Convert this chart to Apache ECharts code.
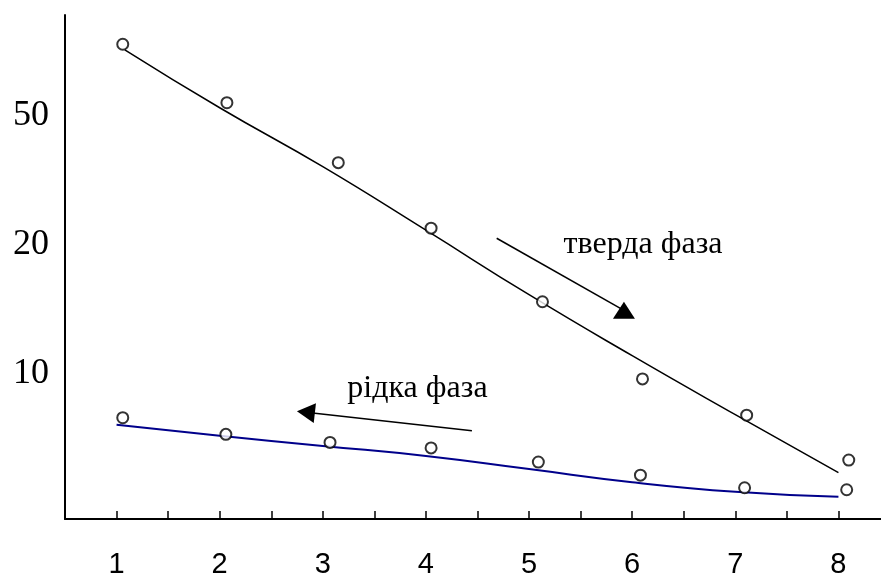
<!DOCTYPE html>
<html>
<head>
<meta charset="utf-8">
<script src="https://cdn.jsdelivr.net/npm/echarts@6/dist/echarts.min.js"></script>
<style>
  html, body { margin: 0; padding: 0; background: #fff; }
  #chart-container { width: 881px; height: 577px; }
</style>
</head>
<body>
<div id="chart-container"></div>
<script>
// y axis is in relative units (0 = x axis, 100 = top of y axis)
const yTickValues = [28.8, 54.4, 80.0]
const yTickLabels = ["10", "20", "50"]

// measured points
const solidX = [1.06, 2.07, 3.15, 4.05, 5.13, 6.10, 7.11, 8.10]
const solidY = [94.2, 82.6, 70.7, 57.7, 43.1, 27.8, 20.6, 11.7]
const liquidX = [1.06, 2.06, 3.07, 4.05, 5.09, 6.08, 7.09, 8.08]
const liquidY = [20.1, 16.8, 15.2, 14.1, 11.3, 8.7, 6.2, 5.8]

// fitted curves
const solidFitX = [1.08, 2, 3, 4, 5, 6, 7, 8]
const solidFitY = [93.1, 81.6, 69.9, 57.3, 44.5, 32.4, 20.7, 9.2]
const liquidFitX = [1, 2, 3, 4, 5, 6, 7, 8]
const liquidFitY = [18.7, 16.5, 14.5, 12.5, 9.9, 7.3, 5.4, 4.4]

// annotations: arrows [start, end] and text
const solidArrow = [[4.686, 55.7], [5.92, 41.4]]
const liquidArrow = [[4.446, 17.5], [2.836, 21.2]]
const solidText = { name: "тверда фаза", coord: [6.105, 54.4] }
const liquidText = { name: "рідка фаза", coord: [3.918, 25.8] }

const zip = (xs, ys) => xs.map((x, i) => [x, ys[i]])

var dom = document.getElementById("chart-container")
var myChart = echarts.init(dom, null, { renderer: "canvas" })

const serifFont = "'Liberation Serif', 'Times New Roman', serif"
const sansFont = "'Liberation Sans', Arial, sans-serif"

const pointOptions = {
  type: "scatter",
  symbol: "circle",
  symbolSize: 11,
  itemStyle: { color: "#fff", borderColor: "#000", borderWidth: 2 },
  z: 5,
  silent: true
}

const textMark = (t) => ({
  symbolSize: 0,
  silent: true,
  data: [{ name: t.name, coord: t.coord }],
  label: {
    show: true,
    position: "inside",
    formatter: "{b}",
    fontFamily: serifFont,
    fontSize: 32,
    color: "#000"
  }
})

const arrowMark = (a, rotate, size) => ({
  silent: true,
  symbol: ["none", "triangle"],
  symbolSize: size,
  symbolRotate: rotate,
  label: { show: false },
  lineStyle: { color: "#000", width: 1.5, type: "solid" },
  emphasis: { disabled: true },
  data: [[{ coord: a[0] }, { coord: a[1] }]]
})

var option = {
  animation: false,
  grid: { left: 65, top: 15, width: 825, height: 504, outerBoundsMode: "none" },
  xAxis: {
    type: "value",
    min: 0.5,
    max: 8.5,
    interval: 0.5,
    splitLine: { show: false },
    axisLine: { show: true, lineStyle: { color: "#000", width: 2 } },
    axisTick: { show: true, inside: true, length: 8, lineStyle: { color: "#000", width: 1.5 } },
    axisLabel: {
      margin: 31,
      fontFamily: sansFont,
      fontSize: 29,
      color: "#000",
      showMinLabel: false,
      showMaxLabel: false,
      formatter: (v) => (Number.isInteger(v) ? String(v) : "")
    }
  },
  yAxis: {
    type: "value",
    min: 0,
    max: 100,
    splitLine: { show: false },
    axisLine: { show: true, lineStyle: { color: "#000", width: 2 } },
    axisTick: { show: false },
    axisLabel: {
      margin: 16,
      fontFamily: serifFont,
      fontSize: 36,
      color: "#000",
      customValues: yTickValues,
      formatter: (v) => {
        const i = yTickValues.findIndex((t) => Math.abs(t - v) < 0.01)
        return i >= 0 ? yTickLabels[i] : ""
      }
    }
  },
  series: [
    {
      name: "solid fit",
      type: "line",
      data: zip(solidFitX, solidFitY),
      smooth: 0.5,
      showSymbol: false,
      lineStyle: { color: "#000", width: 1.5 },
      silent: true,
      markLine: arrowMark(solidArrow, [0, 0], [22, 17]),
      markPoint: textMark(solidText)
    },
    {
      name: "liquid fit",
      type: "line",
      data: zip(liquidFitX, liquidFitY),
      smooth: 0.5,
      showSymbol: false,
      lineStyle: { color: "#00008b", width: 2 },
      silent: true,
      markLine: arrowMark(liquidArrow, null, [20, 18]),
      markPoint: textMark(liquidText)
    },
    { ...pointOptions, name: "solid", data: zip(solidX, solidY) },
    { ...pointOptions, name: "liquid", data: zip(liquidX, liquidY) }
  ]
}

myChart.setOption(option)
window.addEventListener("resize", myChart.resize)
</script>
</body>
</html>
